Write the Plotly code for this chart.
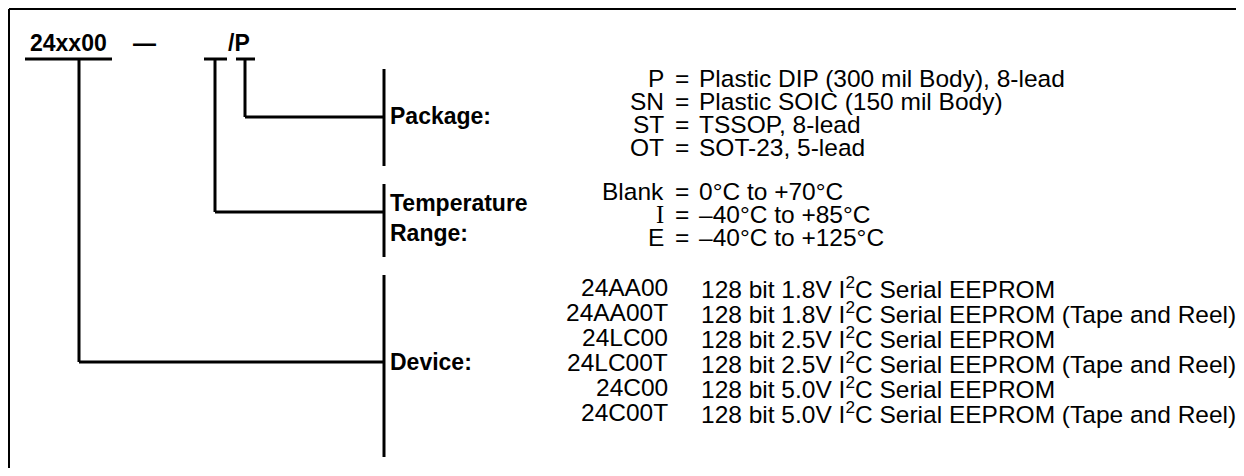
import plotly.graph_objects as go

# ---- data ----
part_number = "24xx00"
dash_text = "—"
option_text = "/P"

section_labels = ["Package:", "Temperature<br>Range:", "Device:"]

package_codes = ["P", "SN", "ST", "OT"]
package_desc = ["Plastic DIP (300 mil Body), 8-lead",
                "Plastic SOIC (150 mil Body)",
                "TSSOP, 8-lead",
                "SOT-23, 5-lead"]

temp_codes = ["Blank", "I", "E"]
temp_desc = ["0°C to +70°C", "–40°C to +85°C", "–40°C to +125°C"]

device_codes = ["24AA00", "24AA00T", "24LC00", "24LC00T", "24C00", "24C00T"]
device_desc = ["128 bit 1.8V I<sup>2</sup>C Serial EEPROM",
               "128 bit 1.8V I<sup>2</sup>C Serial EEPROM (Tape and Reel)",
               "128 bit 2.5V I<sup>2</sup>C Serial EEPROM",
               "128 bit 2.5V I<sup>2</sup>C Serial EEPROM (Tape and Reel)",
               "128 bit 5.0V I<sup>2</sup>C Serial EEPROM",
               "128 bit 5.0V I<sup>2</sup>C Serial EEPROM (Tape and Reel)"]

# ---- layout constants (page pixel coordinates) ----
W, H = 1244, 476
OFF = 8  # default page body margin
FONT = "Liberation Sans, Arial, Helvetica, sans-serif"
REG = 24.5
BOLD = 23
LW = 3

fig = go.Figure()
shapes = []
annotations = []

def line(x0, y0, x1, y1, w=LW):
    shapes.append(dict(type="line", xref="x", yref="y", x0=x0, y0=y0, x1=x1, y1=y1,
                       line=dict(color="black", width=w)))

def text(x, y, s, anchor="left", size=REG, bold=False):
    if bold:
        s = "<b>" + s + "</b>"
    annotations.append(dict(x=x, y=y, xref="x", yref="y", text=s, showarrow=False,
                            xanchor=anchor, yanchor="middle", align=anchor,
                            font=dict(family=FONT, size=size, color="black")))

# outer frame (top and left visible)
line(9, 9, W, 9, 2)
line(9, 9, 9, H, 2)

# header
text(28, 43, part_number, size=BOLD, bold=True)
text(131, 43, dash_text, size=BOLD, bold=True)
text(226, 43, option_text, size=BOLD, bold=True)

# underlines
line(25, 59, 112, 59)
line(204, 59, 227, 59)
line(236, 59, 255, 59)

# connectors
bar_x = 384
line(79, 59, 79, 362); line(79, 362, bar_x, 362)
line(215, 59, 215, 212); line(215, 212, bar_x, 212)
line(245, 59, 245, 117); line(245, 117, bar_x, 117)

# section bars
line(bar_x, 69, bar_x, 166)
line(bar_x, 184, bar_x, 257)
line(bar_x, 275, bar_x, 457)

# section labels
text(388, 116, section_labels[0], size=BOLD, bold=True)
text(388, 218, section_labels[1], size=BOLD, bold=True)
text(388, 362, section_labels[2], size=BOLD, bold=True)

CODE_R = 666
EQ_X = 682
DESC_L = 697

# package rows
pkg_y = [78, 101, 124, 147]
for c, d, y in zip(package_codes, package_desc, pkg_y):
    text(CODE_R, y, c, anchor="right")
    text(EQ_X, y, "=", anchor="center")
    text(DESC_L, y, d)

# temperature rows
tmp_y = [191, 214, 237]
for c, d, y in zip(temp_codes, temp_desc, tmp_y):
    if c == "I":
        c = '<span style="font-family:Liberation Serif">I</span>'
    text(CODE_R, y, c, anchor="right")
    text(EQ_X, y, "=", anchor="center")
    text(DESC_L, y, d)

# device rows
dev_y = [287, 312, 337, 362, 387, 412]
for c, d, y in zip(device_codes, device_desc, dev_y):
    text(670, y, c, anchor="right")
    text(699, y, d)

VIS_W = W - 2 * OFF
VIS_H = H - 2 * OFF
fig.update_layout(
    width=VIS_W, height=VIS_H,
    margin=dict(l=0, r=0, t=0, b=0, autoexpand=False),
    paper_bgcolor="white", plot_bgcolor="white",
    xaxis=dict(range=[OFF, OFF + VIS_W], visible=False, fixedrange=True),
    yaxis=dict(range=[OFF + VIS_H, OFF], visible=False, fixedrange=True),
    shapes=shapes, annotations=annotations, showlegend=False,
)

fig.write_html("out.html")
